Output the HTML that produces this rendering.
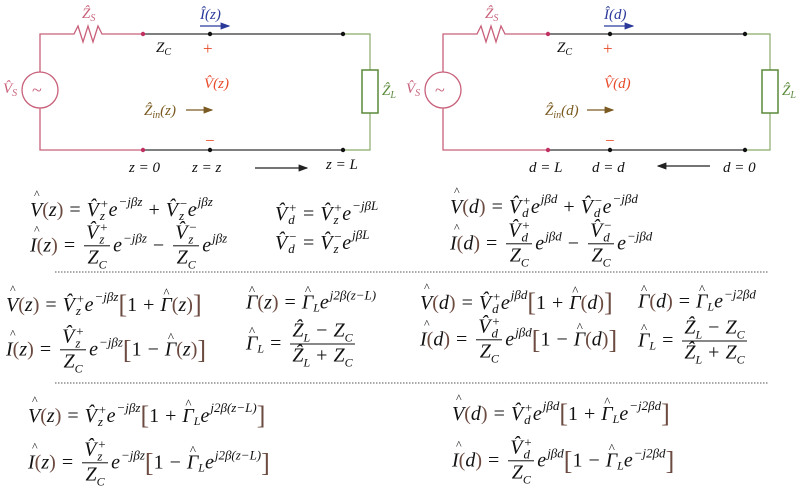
<!DOCTYPE html>
<html><head><meta charset="utf-8"><style>
html,body{margin:0;padding:0;background:#fff}
#w{position:relative;width:800px;height:489px;overflow:hidden;font-family:"Liberation Serif",serif;}
svg{position:absolute;left:0;top:0}
.eq{position:absolute;display:flex;align-items:center;white-space:nowrap;font-size:20px;font-style:italic;color:#111;transform:translateY(-50%)}
.eq .n{font-style:normal}
.eq .p{font-style:normal;color:#6b4a40}
.eq .br{font-style:normal;color:#6b4a40;font-size:26px}
.ss{display:inline-flex;flex-direction:column;font-size:13px;line-height:12px;margin-left:1px;vertical-align:middle}
.ex{font-size:13px;position:relative;top:-8px;margin-left:1px}
.sb{font-size:12px;position:relative;top:5px}
.fr{display:inline-flex;flex-direction:column;align-items:center;margin:0 3px;line-height:22px}
.fr .t{border-bottom:1px solid #111;padding:0 2px}
.op{font-style:normal;margin:0 6px}
.h{position:relative}
.car{position:absolute;left:4px;top:-12px;font-size:12px;font-style:normal}
.gh{position:absolute;left:3px;top:-9px;font-size:13px;font-style:normal}
</style></head><body><div id="w">
<svg width="800" height="489" viewBox="0 0 800 489" font-family="Liberation Serif" font-style="italic" font-size="15">
<defs>
<marker id="ab" markerWidth="8" markerHeight="6" refX="7" refY="3" orient="auto"><path d="M0,0L8,3L0,6z" fill="#2b3a9a"/></marker>
<marker id="ak" markerWidth="8" markerHeight="6" refX="7" refY="3" orient="auto"><path d="M0,0L8,3L0,6z" fill="#222"/></marker>
<marker id="an" markerWidth="8" markerHeight="6" refX="7" refY="3" orient="auto"><path d="M0,0L8,3L0,6z" fill="#7a5a20"/></marker>
</defs>
<path d="M40,72V34H74l4,-8 5,16 5,-16 5,16 5,-16 4,8H143M40,108V150H143" fill="none" stroke="#c8607a" stroke-width="1.3"/>
<circle cx="40" cy="90" r="18" fill="none" stroke="#c8607a" stroke-width="1.3"/>
<text x="32" y="96" font-style="normal" font-size="18" fill="#c8607a">~</text>
<path d="M143,34H343M143,150H343" stroke="#333" stroke-width="1.2"/>
<path d="M343,34H370V70M370,113V150H343" fill="none" stroke="#8aaa6a" stroke-width="1.2"/>
<rect x="362" y="70" width="16" height="43" fill="none" stroke="#5a8a3a" stroke-width="1.5"/>
<circle cx="143" cy="34" r="2.2" fill="#c03060"/><circle cx="143" cy="150" r="2.2" fill="#c03060"/>
<circle cx="210" cy="34" r="2.2" fill="#111"/><circle cx="210" cy="150" r="2.2" fill="#111"/>
<circle cx="343" cy="34" r="2.2" fill="#111"/><circle cx="343" cy="150" r="2.2" fill="#111"/>
<text x="82" y="18" fill="#c8607a">Ẑ<tspan font-size="10" dy="3">S</tspan></text>
<text x="3" y="93" fill="#c8607a">V̂<tspan font-size="10" dy="3">S</tspan></text>
<text x="382" y="95" fill="#5a8a3a">Ẑ<tspan font-size="10" dy="3">L</tspan></text>
<text x="156" y="52" fill="#111">Z<tspan font-size="10" dy="3">C</tspan></text>
<text x="203" y="54" font-style="normal" fill="#e84a2a" font-size="17">+</text>
<text x="204" y="88" fill="#e84a2a">V̂(z)</text>
<text x="205" y="146" font-style="normal" fill="#e84a2a" font-size="17">−</text>
<text x="144" y="115" fill="#7a5a20">Ẑ<tspan font-size="10" dy="3">in</tspan><tspan dy="-3">(z)</tspan></text>
<line x1="186" y1="110" x2="212" y2="110" stroke="#7a5a20" stroke-width="1.2" marker-end="url(#an)"/>
<text x="129" y="172" fill="#111">z = 0</text>
<text x="192" y="172" fill="#111">z = z</text>
<text x="326" y="169" fill="#111">z = L</text>
<text x="200" y="19" fill="#2b3a9a">Î(z)</text>
<line x1="200" y1="26" x2="229" y2="26" stroke="#2b3a9a" stroke-width="1.2" marker-end="url(#ab)"/>
<line x1="255" y1="168" x2="307" y2="168" stroke="#222" stroke-width="1.2" marker-end="url(#ak)"/>

<path d="M443,72V34H477l4,-8 5,16 5,-16 5,16 5,-16 4,8H548M443,108V150H548" fill="none" stroke="#c8607a" stroke-width="1.3"/>
<circle cx="443" cy="90" r="18" fill="none" stroke="#c8607a" stroke-width="1.3"/>
<text x="435" y="96" font-style="normal" font-size="18" fill="#c8607a">~</text>
<path d="M548,34H745M548,150H745" stroke="#333" stroke-width="1.2"/>
<path d="M745,34H770V70M770,113V150H745" fill="none" stroke="#8aaa6a" stroke-width="1.2"/>
<rect x="762" y="70" width="16" height="43" fill="none" stroke="#5a8a3a" stroke-width="1.5"/>
<circle cx="548" cy="34" r="2.2" fill="#c03060"/><circle cx="548" cy="150" r="2.2" fill="#c03060"/>
<circle cx="610" cy="34" r="2.2" fill="#111"/><circle cx="610" cy="150" r="2.2" fill="#111"/>
<circle cx="745" cy="34" r="2.2" fill="#111"/><circle cx="745" cy="150" r="2.2" fill="#111"/>
<text x="485" y="18" fill="#c8607a">Ẑ<tspan font-size="10" dy="3">S</tspan></text>
<text x="406" y="93" fill="#c8607a">V̂<tspan font-size="10" dy="3">S</tspan></text>
<text x="782" y="95" fill="#5a8a3a">Ẑ<tspan font-size="10" dy="3">L</tspan></text>
<text x="557" y="52" fill="#111">Z<tspan font-size="10" dy="3">C</tspan></text>
<text x="603" y="54" font-style="normal" fill="#e84a2a" font-size="17">+</text>
<text x="604" y="88" fill="#e84a2a">V̂(d)</text>
<text x="605" y="146" font-style="normal" fill="#e84a2a" font-size="17">−</text>
<text x="545" y="115" fill="#7a5a20">Ẑ<tspan font-size="10" dy="3">in</tspan><tspan dy="-3">(d)</tspan></text>
<line x1="587" y1="110" x2="613" y2="110" stroke="#7a5a20" stroke-width="1.2" marker-end="url(#an)"/>
<text x="529" y="172" fill="#111">d = L</text>
<text x="592" y="172" fill="#111">d = d</text>
<text x="723" y="172" fill="#111">d = 0</text>
<text x="604" y="19" fill="#2b3a9a">Î(d)</text>
<line x1="604" y1="26" x2="633" y2="26" stroke="#2b3a9a" stroke-width="1.2" marker-end="url(#ab)"/>
<line x1="710" y1="166" x2="658" y2="166" stroke="#222" stroke-width="1.2" marker-end="url(#ak)"/>
<line x1="55" y1="272" x2="768" y2="272" stroke="#555" stroke-width="1" stroke-dasharray="1.5,1.5"/>
<line x1="55" y1="383" x2="768" y2="383" stroke="#555" stroke-width="1" stroke-dasharray="1.5,1.5"/>
</svg>

<!-- Row 1 -->
<div class="eq" style="left:30px;top:210px"><span class="h">V<span class="car">^</span></span><span class="p">(</span>z<span class="p">)</span><span class="op">=</span>V̂<span class="ss"><span>+</span><span>z</span></span>e<span class="ex">−jβz</span><span class="op">+</span>V̂<span class="ss"><span>−</span><span>z</span></span>e<span class="ex">jβz</span></div>
<div class="eq" style="left:275px;top:214px">V̂<span class="ss"><span>+</span><span>d</span></span><span class="op">=</span>V̂<span class="ss"><span>+</span><span>z</span></span>e<span class="ex">−jβL</span></div>
<div class="eq" style="left:450px;top:207px"><span class="h">V<span class="car">^</span></span><span class="p">(</span>d<span class="p">)</span><span class="op">=</span>V̂<span class="ss"><span>+</span><span>d</span></span>e<span class="ex">jβd</span><span class="op">+</span>V̂<span class="ss"><span>−</span><span>d</span></span>e<span class="ex">−jβd</span></div>
<!-- Row 2 -->
<div class="eq" style="left:30px;top:246px"><span class="h">I<span class="car">^</span></span><span class="p">(</span>z<span class="p">)</span><span class="op">=</span><span class="fr"><span class="t">V̂<span class="ss"><span>+</span><span>z</span></span></span><span>Z<span class="sb">C</span></span></span>e<span class="ex">−jβz</span><span class="op">−</span><span class="fr"><span class="t">V̂<span class="ss"><span>−</span><span>z</span></span></span><span>Z<span class="sb">C</span></span></span>e<span class="ex">jβz</span></div>
<div class="eq" style="left:275px;top:243px">V̂<span class="ss"><span>−</span><span>d</span></span><span class="op">=</span>V̂<span class="ss"><span>−</span><span>z</span></span>e<span class="ex">jβL</span></div>
<div class="eq" style="left:450px;top:244px"><span class="h">I<span class="car">^</span></span><span class="p">(</span>d<span class="p">)</span><span class="op">=</span><span class="fr"><span class="t">V̂<span class="ss"><span>+</span><span>d</span></span></span><span>Z<span class="sb">C</span></span></span>e<span class="ex">jβd</span><span class="op">−</span><span class="fr"><span class="t">V̂<span class="ss"><span>−</span><span>d</span></span></span><span>Z<span class="sb">C</span></span></span>e<span class="ex">−jβd</span></div>
<!-- Row 3 -->
<div class="eq" style="left:6px;top:305px"><span class="h">V<span class="car">^</span></span><span class="p">(</span>z<span class="p">)</span><span class="op">=</span>V̂<span class="ss"><span>+</span><span>z</span></span>e<span class="ex">−jβz</span><span class="br">[</span><span class="n">1</span><span class="op">+</span><span class="h">Γ<span class="gh">^</span></span><span class="p">(</span>z<span class="p">)</span><span class="br">]</span></div>
<div class="eq" style="left:246px;top:303px"><span class="h">Γ<span class="gh">^</span></span><span class="p">(</span>z<span class="p">)</span><span class="op">=</span><span class="h">Γ<span class="gh">^</span></span><span class="sb">L</span>e<span class="ex">j2β(z−L)</span></div>
<div class="eq" style="left:420px;top:303px"><span class="h">V<span class="car">^</span></span><span class="p">(</span>d<span class="p">)</span><span class="op">=</span>V̂<span class="ss"><span>+</span><span>d</span></span>e<span class="ex">jβd</span><span class="br">[</span><span class="n">1</span><span class="op">+</span><span class="h">Γ<span class="gh">^</span></span><span class="p">(</span>d<span class="p">)</span><span class="br">]</span></div>
<div class="eq" style="left:638px;top:302px"><span class="h">Γ<span class="gh">^</span></span><span class="p">(</span>d<span class="p">)</span><span class="op">=</span><span class="h">Γ<span class="gh">^</span></span><span class="sb">L</span>e<span class="ex">−j2βd</span></div>
<!-- Row 4 -->
<div class="eq" style="left:6px;top:350px"><span class="h">I<span class="car">^</span></span><span class="p">(</span>z<span class="p">)</span><span class="op">=</span><span class="fr"><span class="t">V̂<span class="ss"><span>+</span><span>z</span></span></span><span>Z<span class="sb">C</span></span></span>e<span class="ex">−jβz</span><span class="br">[</span><span class="n">1</span><span class="op">−</span><span class="h">Γ<span class="gh">^</span></span><span class="p">(</span>z<span class="p">)</span><span class="br">]</span></div>
<div class="eq" style="left:246px;top:344px"><span class="h">Γ<span class="gh">^</span></span><span class="sb">L</span><span class="op">=</span><span class="fr"><span class="t">Ẑ<span class="sb">L</span><span class="op">−</span>Z<span class="sb">C</span></span><span>Ẑ<span class="sb">L</span><span class="op">+</span>Z<span class="sb">C</span></span></span></div>
<div class="eq" style="left:420px;top:340px"><span class="h">I<span class="car">^</span></span><span class="p">(</span>d<span class="p">)</span><span class="op">=</span><span class="fr"><span class="t">V̂<span class="ss"><span>+</span><span>d</span></span></span><span>Z<span class="sb">C</span></span></span>e<span class="ex">jβd</span><span class="br">[</span><span class="n">1</span><span class="op">−</span><span class="h">Γ<span class="gh">^</span></span><span class="p">(</span>d<span class="p">)</span><span class="br">]</span></div>
<div class="eq" style="left:638px;top:341px"><span class="h">Γ<span class="gh">^</span></span><span class="sb">L</span><span class="op">=</span><span class="fr"><span class="t">Ẑ<span class="sb">L</span><span class="op">−</span>Z<span class="sb">C</span></span><span>Ẑ<span class="sb">L</span><span class="op">+</span>Z<span class="sb">C</span></span></span></div>
<!-- Row 5 -->
<div class="eq" style="left:28px;top:416px"><span class="h">V<span class="car">^</span></span><span class="p">(</span>z<span class="p">)</span><span class="op">=</span>V̂<span class="ss"><span>+</span><span>z</span></span>e<span class="ex">−jβz</span><span class="br">[</span><span class="n">1</span><span class="op">+</span><span class="h">Γ<span class="gh">^</span></span><span class="sb">L</span>e<span class="ex">j2β(z−L)</span><span class="br">]</span></div>
<div class="eq" style="left:452px;top:414px"><span class="h">V<span class="car">^</span></span><span class="p">(</span>d<span class="p">)</span><span class="op">=</span>V̂<span class="ss"><span>+</span><span>d</span></span>e<span class="ex">jβd</span><span class="br">[</span><span class="n">1</span><span class="op">+</span><span class="h">Γ<span class="gh">^</span></span><span class="sb">L</span>e<span class="ex">−j2βd</span><span class="br">]</span></div>
<!-- Row 6 -->
<div class="eq" style="left:28px;top:463px"><span class="h">I<span class="car">^</span></span><span class="p">(</span>z<span class="p">)</span><span class="op">=</span><span class="fr"><span class="t">V̂<span class="ss"><span>+</span><span>z</span></span></span><span>Z<span class="sb">C</span></span></span>e<span class="ex">−jβz</span><span class="br">[</span><span class="n">1</span><span class="op">−</span><span class="h">Γ<span class="gh">^</span></span><span class="sb">L</span>e<span class="ex">j2β(z−L)</span><span class="br">]</span></div>
<div class="eq" style="left:452px;top:461px"><span class="h">I<span class="car">^</span></span><span class="p">(</span>d<span class="p">)</span><span class="op">=</span><span class="fr"><span class="t">V̂<span class="ss"><span>+</span><span>d</span></span></span><span>Z<span class="sb">C</span></span></span>e<span class="ex">jβd</span><span class="br">[</span><span class="n">1</span><span class="op">−</span><span class="h">Γ<span class="gh">^</span></span><span class="sb">L</span>e<span class="ex">−j2βd</span><span class="br">]</span></div>
</div></body></html>
